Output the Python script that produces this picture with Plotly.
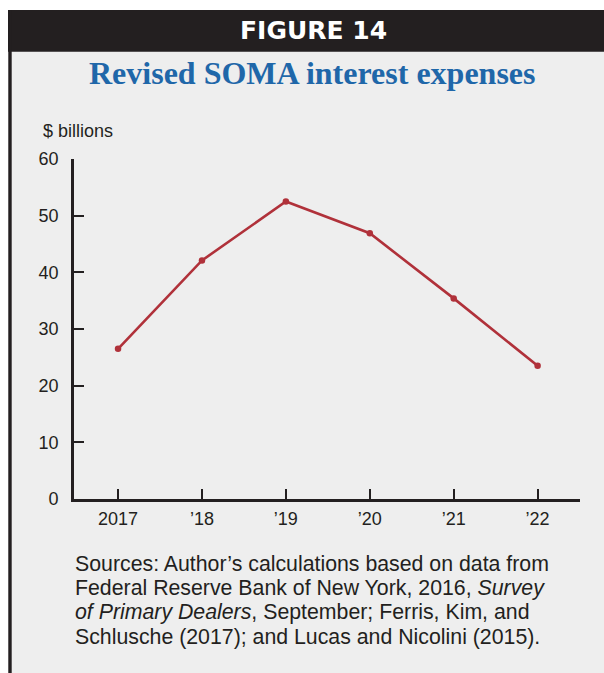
import plotly.graph_objects as go

# Revised SOMA interest expenses, $ billions
years = [2017, 2018, 2019, 2020, 2021, 2022]
expenses = [26.5, 42.1, 52.5, 46.9, 35.4, 23.5]
year_labels = ["2017", "\u201918", "\u201919", "\u201920", "\u201921", "\u201922"]
y_ticks = [0, 10, 20, 30, 40, 50, 60]

source_lines = [
    "Sources: Author\u2019s calculations based on data from",
    "Federal Reserve Bank of New York, 2016, <i>Survey</i>",
    "<i>of Primary Dealers</i>, September; Ferris, Kim, and",
    "Schlusche (2017); and Lucas and Nicolini (2015).",
]

W, H = 604, 673
ML, MR, MT, MB = 74, 24, 159, 174
PW = W - ML - MR
PH = H - MT - MB

INK = "#231f20"
PANEL = "#eeeeee"
LINE = "#b0313a"
BLUE = "#1f67a9"
SANS = "Liberation Sans, Arial, Helvetica, sans-serif"


def px(x):
    return (x - ML) / PW


def py(y):
    return (H - MB - y) / PH


fig = go.Figure()
fig.add_trace(go.Scatter(
    x=years, y=expenses, mode="lines+markers",
    line=dict(color=LINE, width=2.6),
    marker=dict(color=LINE, size=6.5),
    cliponaxis=False, hoverinfo="x+y", showlegend=False,
))

shapes = [
    # grey panel
    dict(type="rect", xref="paper", yref="paper", layer="below",
         x0=px(8), x1=px(604), y0=py(673), y1=py(10),
         fillcolor=PANEL, line=dict(width=0)),
    # header band
    dict(type="rect", xref="paper", yref="paper", layer="below",
         x0=px(8), x1=px(604), y0=py(51.7), y1=py(10),
         fillcolor=INK, line=dict(width=0)),
    # left rule
    dict(type="rect", xref="paper", yref="paper", layer="below",
         x0=px(8.3), x1=px(11.7), y0=py(673), y1=py(10),
         fillcolor=INK, line=dict(width=0)),
]

annotations = [
    dict(text="<b>FIGURE 14</b>", x=px(313), y=py(30.5), xref="paper", yref="paper",
         xanchor="center", yanchor="middle", showarrow=False,
         font=dict(family="DejaVu Sans, sans-serif", size=25, color="white")),
    dict(text="<b>Revised SOMA interest expenses</b>", x=px(312), y=py(73),
         xref="paper", yref="paper", xanchor="center", yanchor="middle", showarrow=False,
         font=dict(family="Liberation Serif, Times New Roman, serif", size=32, color=BLUE)),
    dict(text="$ billions", x=px(41), y=py(131), xref="paper", yref="paper",
         xanchor="left", yanchor="middle", showarrow=False,
         font=dict(family=SANS, size=18, color=INK)),
]

first_line_mid = 564.2
for i, line in enumerate(source_lines):
    annotations.append(dict(
        text=line, x=px(73), y=py(first_line_mid + 24.1 * i), xref="paper", yref="paper",
        xanchor="left", yanchor="middle", showarrow=False,
        font=dict(family=SANS, size=21.3, color=INK)))

fig.update_layout(
    width=W, height=H,
    margin=dict(l=ML, r=MR, t=MT, b=MB, pad=0),
    paper_bgcolor="white", plot_bgcolor="rgba(0,0,0,0)",
    shapes=shapes, annotations=annotations,
    font=dict(family=SANS, color=INK),
    xaxis=dict(
        range=[2016.475, 2022.505], tickmode="array", tickvals=years, ticktext=year_labels,
        showgrid=False, zeroline=False, showline=True, linecolor=INK, linewidth=2.6,
        ticks="inside", ticklen=10, tickwidth=2, tickcolor=INK, ticklabelstandoff=2,
        tickfont=dict(family=SANS, size=18, color=INK), fixedrange=True,
    ),
    yaxis=dict(
        range=[0, 60], tickmode="array", tickvals=y_ticks,
        showgrid=False, zeroline=False, showline=True, linecolor=INK, linewidth=2.6,
        ticks="inside", ticklen=10, tickwidth=2, tickcolor=INK, ticklabelstandoff=9,
        tickfont=dict(family=SANS, size=18, color=INK), fixedrange=True,
    ),
)

fig.write_html("out.html")
